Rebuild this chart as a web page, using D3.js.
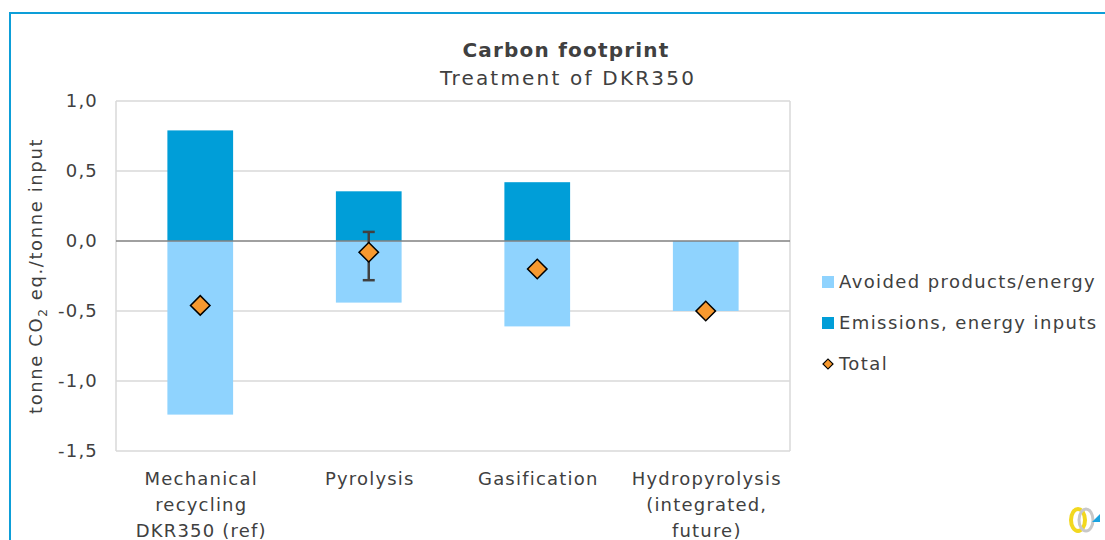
<!doctype html>
<html>
<head>
<meta charset="utf-8">
<script src="https://cdn.jsdelivr.net/npm/d3@7"></script>
<style>
  body { margin: 0; background: #fff; }
  text { font-family: "DejaVu Sans", Verdana, sans-serif; fill: #404040; letter-spacing: 1.2px; }
</style>
</head>
<body>
<div id="chart"></div>
<script>
// data
var categories = [["Mechanical", "recycling", "DKR350 (ref)"], ["Pyrolysis"], ["Gasification"], ["Hydropyrolysis", "(integrated,", "future)"]];
var emissions = [0.79, 0.355, 0.42, 0.0];
var avoided = [-1.24, -0.44, -0.61, -0.50];
var total = [-0.46, -0.08, -0.20, -0.50];
var errLow = [null, -0.28, null, null];
var errHigh = [null, 0.065, null, null];
var yTicks = [1.0, 0.5, 0.0, -0.5, -1.0, -1.5];
var legendLabels = ["Avoided products/energy", "Emissions, energy inputs", "Total"];

var W = 1105, H = 540;
var margin = {top: 101, left: 116, right: 315, bottom: 89};
var width = W - margin.left - margin.right,
    height = H - margin.top - margin.bottom;

var cDark = "#009ed8", cLight = "#8fd3fe", cOrange = "#f7992f";

var svg = d3.select("#chart").append("svg")
    .attr("width", W)
    .attr("height", H);

// outer frame
svg.append("rect")
    .attr("x", 10).attr("y", 13)
    .attr("width", W + 20).attr("height", H + 20)
    .attr("fill", "none")
    .attr("stroke", "#0d9ed8")
    .attr("stroke-width", 2);

var g = svg.append("g")
    .attr("transform", "translate(" + margin.left + "," + margin.top + ")");

var x = d3.scaleBand()
    .domain(d3.range(categories.length))
    .range([0, width])
    .paddingInner(0.61)
    .paddingOuter(0.305);

var y = d3.scaleLinear()
    .domain([-1.5, 1.0])
    .range([height, 0]);

// gridlines
g.selectAll(".grid")
    .data(yTicks.filter(function(d) { return d !== 0; }))
  .enter().append("line")
    .attr("x1", 0).attr("x2", width)
    .attr("y1", function(d) { return y(d); })
    .attr("y2", function(d) { return y(d); })
    .attr("stroke", "#d9d9d9")
    .attr("stroke-width", 1.5);

// plot frame sides
g.append("line").attr("x1", 0).attr("x2", 0).attr("y1", 0).attr("y2", height)
    .attr("stroke", "#d9d9d9").attr("stroke-width", 1.5);
g.append("line").attr("x1", width).attr("x2", width).attr("y1", 0).attr("y2", height)
    .attr("stroke", "#d9d9d9").attr("stroke-width", 1.5);

// bars
g.selectAll(".avoided")
    .data(avoided)
  .enter().append("rect")
    .attr("x", function(d, i) { return x(i); })
    .attr("width", x.bandwidth())
    .attr("y", y(0))
    .attr("height", function(d) { return y(d) - y(0); })
    .attr("fill", cLight);

g.selectAll(".emis")
    .data(emissions)
  .enter().append("rect")
    .attr("x", function(d, i) { return x(i); })
    .attr("width", x.bandwidth())
    .attr("y", function(d) { return y(d); })
    .attr("height", function(d) { return y(0) - y(d); })
    .attr("fill", cDark);

// zero line
g.append("line")
    .attr("x1", 0).attr("x2", width)
    .attr("y1", y(0)).attr("y2", y(0))
    .attr("stroke", "#808080").attr("stroke-width", 1.5);

// error bars
errLow.forEach(function(lo, i) {
  if (lo === null) return;
  var cx = x(i) + x.bandwidth() / 2;
  var eg = g.append("g").attr("stroke", "#404040").attr("stroke-width", 2.5);
  eg.append("line").attr("x1", cx).attr("x2", cx).attr("y1", y(errHigh[i])).attr("y2", y(lo));
  eg.append("line").attr("x1", cx - 6).attr("x2", cx + 6).attr("y1", y(errHigh[i])).attr("y2", y(errHigh[i]));
  eg.append("line").attr("x1", cx - 6).attr("x2", cx + 6).attr("y1", y(lo)).attr("y2", y(lo));
});

// total diamonds
var diamond = d3.symbol().type(d3.symbolSquare).size(190);
g.selectAll(".total")
    .data(total)
  .enter().append("path")
    .attr("d", diamond)
    .attr("transform", function(d, i) {
      return "translate(" + (x(i) + x.bandwidth() / 2) + "," + y(d) + ") rotate(45)";
    })
    .attr("fill", cOrange)
    .attr("stroke", "#000")
    .attr("stroke-width", 1.5);

// y axis labels
g.selectAll(".ytick")
    .data(yTicks)
  .enter().append("text")
    .attr("x", -18)
    .attr("y", function(d) { return y(d); })
    .attr("dy", "0.35em")
    .attr("text-anchor", "end")
    .style("font-size", "18px")
    .text(function(d) { return d3.format(".1f")(d).replace(".", ",").replace("−", "-"); });

// x labels
categories.forEach(function(lines, i) {
  var cx = x(i) + x.bandwidth() / 2 + 1;
  var t = g.append("text")
      .attr("x", cx)
      .attr("y", height + 34)
      .attr("text-anchor", "middle")
      .style("font-size", "18px");
  lines.forEach(function(s, j) {
    t.append("tspan").attr("x", cx).attr("dy", j === 0 ? 0 : 26).text(s);
  });
});

// y axis title
var yt = svg.append("text")
    .attr("transform", "translate(42," + (margin.top + y(-0.25)) + ") rotate(-90)")
    .attr("text-anchor", "middle")
    .style("font-size", "18px")
    .style("letter-spacing", "1.6px");
yt.append("tspan").text("tonne CO");
yt.append("tspan").attr("dy", 5).style("font-size", "12px").text("2");
yt.append("tspan").attr("dy", -5).text(" eq./tonne input");

// title
svg.append("text")
    .attr("x", 566).attr("y", 57)
    .attr("text-anchor", "middle")
    .style("font-size", "20px")
    .style("font-weight", "bold")
    .style("letter-spacing", "1.2px")
    .text("Carbon footprint");
svg.append("text")
    .attr("x", 568).attr("y", 85)
    .attr("text-anchor", "middle")
    .style("font-size", "20px")
    .style("letter-spacing", "2.2px")
    .text("Treatment of DKR350");

// legend
var legColors = [cLight, cDark, cOrange];
var leg = svg.selectAll(".leg")
    .data(legendLabels)
  .enter().append("g")
    .attr("transform", function(d, i) { return "translate(822," + (282 + i * 41) + ")"; });
leg.each(function(d, i) {
  var s = d3.select(this);
  if (i < 2) {
    s.append("rect").attr("x", 0).attr("y", -6).attr("width", 12).attr("height", 12).attr("fill", legColors[i]);
  } else {
    s.append("path").attr("d", d3.symbol().type(d3.symbolSquare).size(50))
      .attr("transform", "translate(6,0) rotate(45)")
      .attr("fill", cOrange).attr("stroke", "#000").attr("stroke-width", 1.2);
  }
  s.append("text").attr("x", 17).attr("dy", "0.35em").style("font-size", "18px")
    .style("letter-spacing", "1.4px").text(d);
});

// small logo, bottom right
var logo = svg.append("g").attr("transform", "translate(1078,520)");
logo.append("ellipse").attr("rx", 7).attr("ry", 11).attr("fill", "none").attr("stroke", "#f2d81f").attr("stroke-width", 4);
logo.append("ellipse").attr("cx", 8).attr("rx", 7).attr("ry", 11).attr("fill", "none").attr("stroke", "#c8c8c8").attr("stroke-width", 3);
logo.append("path").attr("d", "M14,2 L22,2 L22,-6 Z").attr("fill", "#1aa3e0");
</script>
</body>
</html>
